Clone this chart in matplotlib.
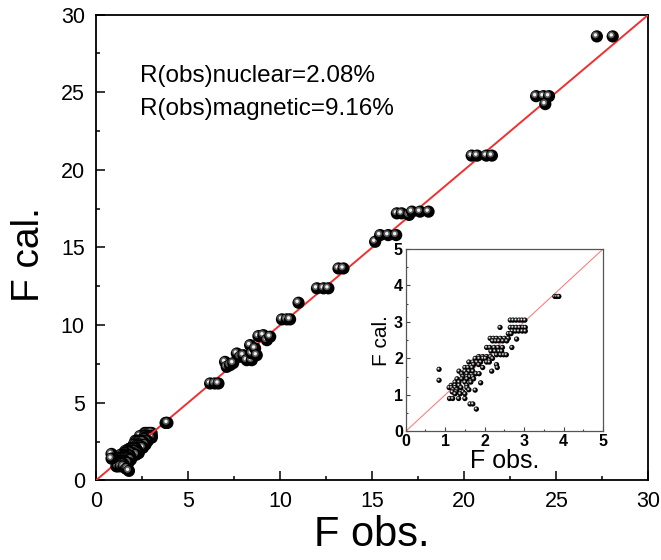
import matplotlib
matplotlib.use("Agg")
import matplotlib.pyplot as plt
from matplotlib import transforms
from matplotlib.ticker import MultipleLocator

plt.rcParams['font.family'] = ['Liberation Sans', 'DejaVu Sans']

# low F region (also shown in the inset)
f_obs_low = [2.65, 2.72, 2.80, 2.88, 2.95, 3.02,
             2.39, 2.65, 2.72, 2.80, 2.88, 2.97, 3.03,
             2.70, 2.78, 2.86, 2.95, 3.03,
             2.60, 2.67,
             2.14, 2.22, 2.30, 2.40, 2.50, 2.60, 2.81,
             2.20, 2.28, 2.36, 2.46, 2.56,
             2.05, 2.13, 2.24, 2.34, 2.45, 2.69,
             2.16, 2.26, 2.36, 2.43,
             2.30, 2.40, 2.48, 2.55,
             1.85, 1.95, 2.05, 2.15,
             1.76, 1.86, 1.96, 2.02, 2.20,
             1.60, 1.70, 1.80, 1.90, 2.05, 2.12,
             1.72, 1.85, 2.30,
             1.50, 1.58, 1.68, 1.95, 2.32,
             1.35, 1.50, 1.60, 1.70, 2.18,
             1.42, 1.55, 1.78, 1.86,
             1.45, 1.55, 1.62, 1.70,
             1.30, 1.42, 1.55, 1.72,
             1.25, 1.35, 1.50, 1.65, 1.90,
             1.15, 1.25, 1.35, 1.55,
             1.10, 1.16, 1.25, 1.40, 1.55,
             1.20, 1.30, 1.60, 1.76,
             1.18, 1.28, 1.45,
             1.25, 1.38, 1.50,
             1.11, 1.19, 1.34, 1.50,
             1.63, 1.70,
             1.79,
             0.845, 0.845,
             3.78, 3.83, 3.88]
f_cal_low = [3.05, 3.05, 3.05, 3.05, 3.05, 3.05,
             2.85, 2.85, 2.85, 2.85, 2.85, 2.85, 2.85,
             2.75, 2.75, 2.75, 2.75, 2.75,
             2.68, 2.68,
             2.55, 2.55, 2.55, 2.55, 2.55, 2.55, 2.53,
             2.48, 2.48, 2.48, 2.48, 2.48,
             2.30, 2.30, 2.30, 2.30, 2.30, 2.30,
             2.20, 2.20, 2.20, 2.20,
             2.10, 2.10, 2.10, 2.10,
             2.05, 2.05, 2.05, 2.05,
             2.00, 2.00, 2.00, 2.00, 2.00,
             1.90, 1.90, 1.90, 1.90, 1.90, 1.90,
             1.83, 1.83, 1.83,
             1.75, 1.75, 1.75, 1.75, 1.75,
             1.65, 1.65, 1.65, 1.65, 1.65,
             1.58, 1.58, 1.58, 1.58,
             1.50, 1.50, 1.50, 1.50,
             1.44, 1.44, 1.44, 1.44,
             1.35, 1.35, 1.35, 1.35, 1.33,
             1.26, 1.26, 1.26, 1.26,
             1.20, 1.20, 1.20, 1.20, 1.20,
             1.14, 1.14, 1.14, 1.13,
             1.08, 1.08, 1.08,
             1.03, 1.03, 1.03,
             0.90, 0.90, 0.90, 0.90,
             0.75, 0.75,
             0.61,
             1.70, 1.40,
             3.70, 3.70, 3.70]

# higher F reflections
f_obs_high = [6.20, 6.45, 6.65,
              7.01, 7.10, 7.28, 7.45, 7.65, 7.83, 8.00, 8.19, 8.37, 8.46,
              8.46, 8.64, 8.73, 8.82, 9.09, 9.28, 9.46,
              10.10, 10.36, 10.54, 11.00,
              12.00, 12.36, 12.62, 13.17, 13.44,
              15.16, 15.43, 15.87, 16.30,
              16.34, 16.60, 17.00, 17.16, 17.60, 18.06,
              20.40, 20.70, 21.20, 21.50,
              23.90, 24.30, 24.60, 24.40,
              27.20, 28.06]
f_cal_high = [6.24, 6.24, 6.24,
              7.63, 7.31, 7.42, 7.55, 8.17, 7.96, 8.06, 7.74, 8.71, 7.74,
              8.17, 8.50, 8.06, 9.29, 9.35, 9.03, 9.25,
              10.37, 10.37, 10.37, 11.44,
              12.37, 12.37, 12.37, 13.65, 13.65,
              15.37, 15.80, 15.80, 15.80,
              17.20, 17.20, 17.10, 17.31, 17.31, 17.31,
              20.92, 20.92, 20.92, 20.92,
              24.75, 24.75, 24.75, 24.24,
              28.60, 28.60]

r_nuclear = 2.08
r_magnetic = 9.16


def draw_balls(ax, fig, xs, ys, d):
    """Shaded spheres: black ball with a grey/white highlight."""
    hl = transforms.offset_copy(ax.transData, fig=fig, x=-d * 0.12, y=d * 0.12, units='points')
    z = 3
    for x, y in zip(xs, ys):
        ax.scatter([x], [y], s=d ** 2, color='black', edgecolors='none', zorder=z, clip_on=False)
        ax.scatter([x], [y], s=(d * 0.55) ** 2, color='#5a5a5a', edgecolors='none',
                   transform=hl, zorder=z + 0.1, clip_on=False)
        ax.scatter([x], [y], s=(d * 0.28) ** 2, color='#f0f0f0', edgecolors='none',
                   transform=hl, zorder=z + 0.2, clip_on=False)
        z += 0.3


fig = plt.figure(figsize=(6.61, 5.60), dpi=100)
ax = fig.add_axes([0.1452, 0.1423, 0.8358, 0.8315])

ax.axline((0, 0), slope=1, color='#f03030', lw=1.4, zorder=10)
draw_balls(ax, fig, f_obs_low + f_obs_high, f_cal_low + f_cal_high, 8.8)

ax.set_xlim(0, 30)
ax.set_ylim(0, 30)
ax.xaxis.set_major_locator(MultipleLocator(5))
ax.yaxis.set_major_locator(MultipleLocator(5))
ax.xaxis.set_minor_locator(MultipleLocator(2.5))
ax.yaxis.set_minor_locator(MultipleLocator(2.5))
ax.tick_params(which='both', direction='in', top=False, right=False, width=1.1)
ax.tick_params(which='major', length=6.5, labelsize=15.5, pad=8)
ax.tick_params(which='minor', length=3.2)
for sp in ax.spines.values():
    sp.set_linewidth(1.3)
ax.set_xlabel('F obs.', fontsize=30, labelpad=2)
ax.set_ylabel('F cal.', fontsize=28)
ax.yaxis.set_label_coords(-0.088, 0.485)

ax.text(0.08, 0.868, f'R(obs)nuclear={r_nuclear:.2f}%', transform=ax.transAxes,
        fontsize=17.5, va='center', ha='left')
ax.text(0.08, 0.798, f'R(obs)magnetic={r_magnetic:.2f}%', transform=ax.transAxes,
        fontsize=17.5, va='center', ha='left')

# inset with the low F region
axin = fig.add_axes([0.6138, 0.2298, 0.2985, 0.3255])
axin.axline((0, 0), slope=1, color='#ff7070', lw=0.7, zorder=2)
draw_balls(axin, fig, f_obs_low, f_cal_low, 3.8)
axin.set_xlim(0, 5)
axin.set_ylim(0, 5)
axin.xaxis.set_major_locator(MultipleLocator(1))
axin.yaxis.set_major_locator(MultipleLocator(1))
axin.xaxis.set_minor_locator(MultipleLocator(0.5))
axin.yaxis.set_minor_locator(MultipleLocator(0.5))
axin.tick_params(which='both', direction='in', top=False, right=False, width=0.8, color='#444444')
axin.tick_params(which='major', length=3, labelsize=11.5, pad=2)
axin.tick_params(which='minor', length=1.6)
for lab in axin.get_xticklabels() + axin.get_yticklabels():
    lab.set_fontweight('bold')
for sp in axin.spines.values():
    sp.set_linewidth(0.9)
    sp.set_color('#555555')
axin.set_xlabel('F obs.', fontsize=18, labelpad=0)
axin.set_ylabel('F cal.', fontsize=15, labelpad=2)

fig.savefig('out.png', dpi=100)
